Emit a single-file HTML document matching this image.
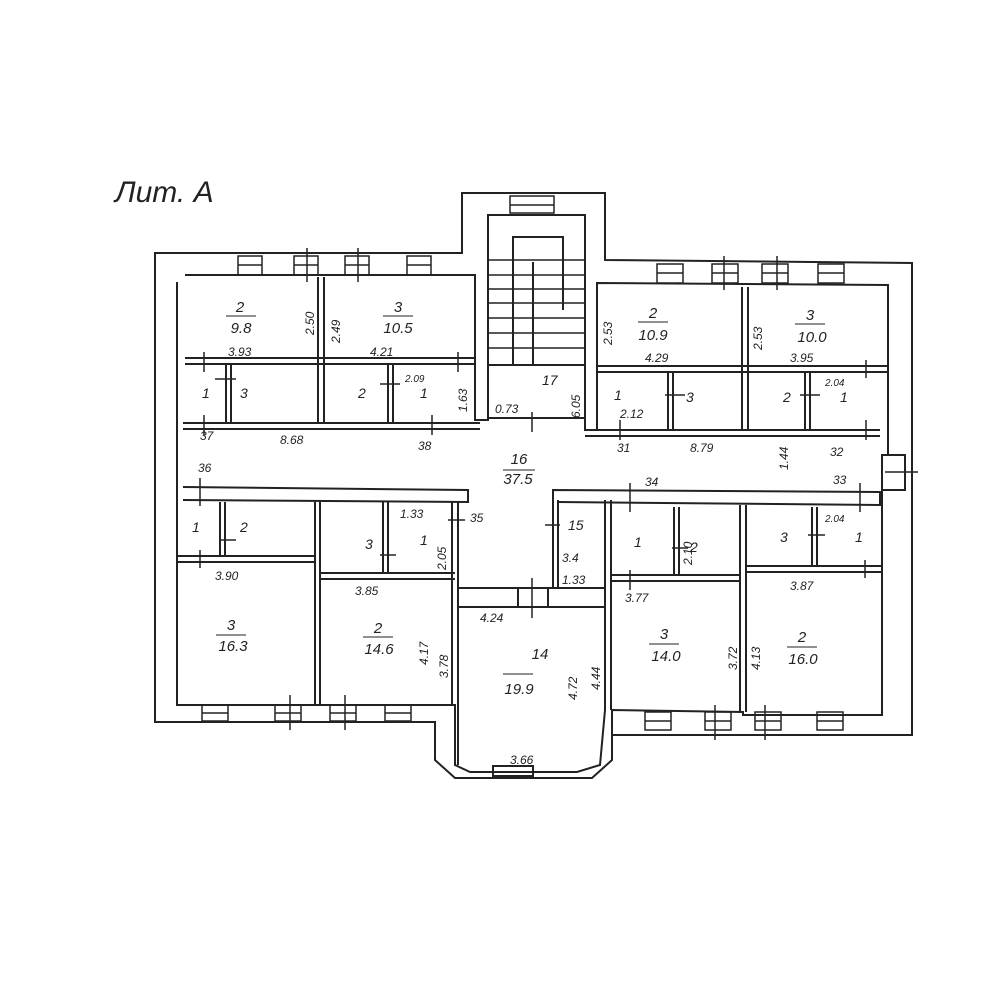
<!DOCTYPE html>
<html><head><meta charset="utf-8"><style>
html,body{margin:0;padding:0;background:#fff}
svg{display:block}
text{font-family:"Liberation Sans",sans-serif;font-style:italic;fill:#222}
</style></head><body>
<svg width="1000" height="1000" viewBox="0 0 1000 1000" xmlns="http://www.w3.org/2000/svg">
<g fill="none" stroke="#222" stroke-width="2">
<!-- outer outline -->
<polyline points="165,253 462,253 462,193 605,193 605,260 912,263 912,735 612,735 612,760 592,778 455,778 435,760 435,722 155,722 155,253 165,253"/>
<!-- inner outline -->
<polyline points="185,275 475,275 475,420 488,420 488,215 585,215 585,430 597,430 597,283 888,285 888,455"/>
<polyline points="888,490 882,490 882,715 743,715 743,712 612,710 612,735"/>
<polyline points="177,282 177,705 445,705 455,705 455,765 470,772 577,772 600,765 605,710"/>
<!-- top left rooms -->
<line x1="318" y1="277" x2="318" y2="423"/><line x1="324" y1="277" x2="324" y2="423"/>
<line x1="185" y1="358" x2="475" y2="358"/><line x1="185" y1="364" x2="475" y2="364"/>
<line x1="183" y1="423" x2="480" y2="423"/><line x1="183" y1="429" x2="480" y2="429"/>
<line x1="226" y1="364" x2="226" y2="423"/><line x1="231" y1="364" x2="231" y2="423"/>
<line x1="388" y1="364" x2="388" y2="423"/><line x1="393" y1="364" x2="393" y2="423"/>
<!-- stair -->
<line x1="533" y1="262" x2="533" y2="365"/>
<polyline points="513,365 513,237 563,237 563,310"/>
<line x1="488" y1="365" x2="585" y2="365"/>
<g stroke-width="1.5">
<line x1="488" y1="260" x2="585" y2="260"/><line x1="488" y1="275" x2="585" y2="275"/>
<line x1="488" y1="289" x2="585" y2="289"/><line x1="488" y1="303" x2="585" y2="303"/>
<line x1="488" y1="318" x2="585" y2="318"/><line x1="488" y1="333" x2="585" y2="333"/>
<line x1="488" y1="348" x2="585" y2="348"/>
</g>
<line x1="488" y1="418" x2="585" y2="418"/>
<!-- top right rooms -->
<line x1="742" y1="287" x2="742" y2="430"/><line x1="748" y1="287" x2="748" y2="430"/>
<line x1="597" y1="366" x2="888" y2="366"/><line x1="597" y1="372" x2="888" y2="372"/>
<line x1="585" y1="430" x2="880" y2="430"/><line x1="585" y1="436" x2="880" y2="436"/>
<line x1="668" y1="372" x2="668" y2="430"/><line x1="673" y1="372" x2="673" y2="430"/>
<line x1="805" y1="372" x2="805" y2="430"/><line x1="810" y1="372" x2="810" y2="430"/>
<!-- side door -->
<rect x="882" y="455" width="23" height="35"/>
<!-- lower left -->
<polyline points="183,487 468,490 468,502 183,500"/>
<line x1="320" y1="502" x2="320" y2="705"/><line x1="315" y1="502" x2="315" y2="705"/>
<line x1="177" y1="556" x2="315" y2="556"/><line x1="177" y1="562" x2="315" y2="562"/>
<line x1="320" y1="573" x2="455" y2="573"/><line x1="320" y1="579" x2="455" y2="579"/>
<line x1="220" y1="502" x2="220" y2="556"/><line x1="225" y1="502" x2="225" y2="556"/>
<line x1="383" y1="502" x2="383" y2="573"/><line x1="388" y1="502" x2="388" y2="573"/>
<line x1="452" y1="502" x2="452" y2="705"/><line x1="458" y1="502" x2="458" y2="765"/>
<!-- center -->
<line x1="458" y1="588" x2="605" y2="588"/><line x1="458" y1="607" x2="605" y2="607"/>
<line x1="553" y1="500" x2="553" y2="588"/><line x1="558" y1="500" x2="558" y2="588"/>
<line x1="605" y1="500" x2="605" y2="710"/><line x1="611" y1="500" x2="611" y2="710"/>
<line x1="518" y1="588" x2="518" y2="607"/><line x1="548" y1="588" x2="548" y2="607"/>
<rect x="493" y="766" width="40" height="10"/>
<!-- lower right -->
<polyline points="553,500 553,490 880,492 880,505 558,502"/>
<line x1="740" y1="505" x2="740" y2="712"/><line x1="746" y1="505" x2="746" y2="712"/>
<line x1="612" y1="575" x2="740" y2="575"/><line x1="612" y1="581" x2="740" y2="581"/>
<line x1="746" y1="566" x2="882" y2="566"/><line x1="746" y1="572" x2="882" y2="572"/>
<line x1="674" y1="507" x2="674" y2="575"/><line x1="679" y1="507" x2="679" y2="575"/>
<line x1="812" y1="507" x2="812" y2="566"/><line x1="817" y1="507" x2="817" y2="566"/>
<!-- windows -->
<g stroke-width="1.5">
<rect x="238" y="256" width="24" height="19"/><line x1="238" y1="265" x2="262" y2="265"/>
<rect x="294" y="256" width="24" height="19"/><line x1="294" y1="265" x2="318" y2="265"/>
<rect x="345" y="256" width="24" height="19"/><line x1="345" y1="265" x2="369" y2="265"/>
<rect x="407" y="256" width="24" height="19"/><line x1="407" y1="265" x2="431" y2="265"/>
<rect x="510" y="196" width="44" height="17"/><line x1="510" y1="205" x2="554" y2="205"/>
<rect x="657" y="264" width="26" height="19"/><line x1="657" y1="273" x2="683" y2="273"/>
<rect x="712" y="264" width="26" height="19"/><line x1="712" y1="273" x2="738" y2="273"/>
<rect x="762" y="264" width="26" height="19"/><line x1="762" y1="273" x2="788" y2="273"/>
<rect x="818" y="264" width="26" height="19"/><line x1="818" y1="273" x2="844" y2="273"/>
<rect x="202" y="705" width="26" height="16"/><line x1="202" y1="713" x2="228" y2="713"/>
<rect x="275" y="705" width="26" height="16"/><line x1="275" y1="713" x2="301" y2="713"/>
<rect x="330" y="705" width="26" height="16"/><line x1="330" y1="713" x2="356" y2="713"/>
<rect x="385" y="705" width="26" height="16"/><line x1="385" y1="713" x2="411" y2="713"/>
<rect x="645" y="712" width="26" height="18"/><line x1="645" y1="721" x2="671" y2="721"/>
<rect x="705" y="712" width="26" height="18"/><line x1="705" y1="721" x2="731" y2="721"/>
<rect x="755" y="712" width="26" height="18"/><line x1="755" y1="721" x2="781" y2="721"/>
<rect x="817" y="712" width="26" height="18"/><line x1="817" y1="721" x2="843" y2="721"/>
</g>
<!-- tick marks -->
<g stroke-width="1.5">
<line x1="307" y1="248" x2="307" y2="282"/><line x1="358" y1="248" x2="358" y2="282"/>
<line x1="724" y1="256" x2="724" y2="290"/><line x1="777" y1="256" x2="777" y2="290"/>
<line x1="204" y1="352" x2="204" y2="372"/><line x1="204" y1="415" x2="204" y2="435"/>
<line x1="432" y1="415" x2="432" y2="435"/><line x1="458" y1="352" x2="458" y2="372"/>
<line x1="620" y1="420" x2="620" y2="440"/><line x1="866" y1="420" x2="866" y2="440"/>
<line x1="866" y1="360" x2="866" y2="378"/><line x1="532" y1="412" x2="532" y2="432"/>
<line x1="200" y1="478" x2="200" y2="506"/><line x1="200" y1="550" x2="200" y2="568"/>
<line x1="630" y1="483" x2="630" y2="512"/><line x1="860" y1="483" x2="860" y2="512"/>
<line x1="865" y1="560" x2="865" y2="578"/><line x1="630" y1="570" x2="630" y2="590"/>
<line x1="532" y1="578" x2="532" y2="618"/><line x1="290" y1="695" x2="290" y2="730"/>
<line x1="345" y1="695" x2="345" y2="730"/><line x1="715" y1="705" x2="715" y2="740"/>
<line x1="765" y1="705" x2="765" y2="740"/><line x1="220" y1="540" x2="236" y2="540"/>
<line x1="380" y1="555" x2="396" y2="555"/><line x1="215" y1="379" x2="236" y2="379"/>
<line x1="380" y1="384" x2="400" y2="384"/><line x1="665" y1="395" x2="685" y2="395"/>
<line x1="800" y1="395" x2="820" y2="395"/><line x1="672" y1="548" x2="688" y2="548"/>
<line x1="808" y1="535" x2="825" y2="535"/><line x1="448" y1="520" x2="465" y2="520"/>
<line x1="545" y1="525" x2="560" y2="525"/><line x1="885" y1="472" x2="918" y2="472"/>
</g>
</g>
<text x="115" y="202" font-size="30">Лит. А</text>
<g font-size="15" text-anchor="middle">
<text x="240" y="312">2</text><line x1="226" y1="316" x2="256" y2="316" stroke="#222"/><text x="241" y="333">9.8</text>
<text x="398" y="312">3</text><line x1="383" y1="316" x2="413" y2="316" stroke="#222"/><text x="398" y="333">10.5</text>
<text x="653" y="318">2</text><line x1="638" y1="322" x2="668" y2="322" stroke="#222"/><text x="653" y="340">10.9</text>
<text x="810" y="320">3</text><line x1="795" y1="324" x2="825" y2="324" stroke="#222"/><text x="812" y="342">10.0</text>
<text x="519" y="464">16</text><line x1="503" y1="470" x2="535" y2="470" stroke="#222"/><text x="518" y="484">37.5</text>
<text x="231" y="630">3</text><line x1="216" y1="635" x2="246" y2="635" stroke="#222"/><text x="233" y="651">16.3</text>
<text x="378" y="633">2</text><line x1="363" y1="637" x2="393" y2="637" stroke="#222"/><text x="379" y="654">14.6</text>
<text x="540" y="659">14</text><line x1="503" y1="674" x2="533" y2="674" stroke="#222"/><text x="519" y="694">19.9</text>
<text x="664" y="639">3</text><line x1="649" y1="644" x2="679" y2="644" stroke="#222"/><text x="666" y="661">14.0</text>
<text x="802" y="642">2</text><line x1="787" y1="647" x2="817" y2="647" stroke="#222"/><text x="803" y="664">16.0</text>
</g>
<g font-size="14">
<text x="202" y="398">1</text><text x="240" y="398">3</text><text x="358" y="398">2</text><text x="420" y="398">1</text>
<text x="614" y="400">1</text><text x="686" y="402">3</text><text x="783" y="402">2</text><text x="840" y="402">1</text>
<text x="192" y="532">1</text><text x="240" y="532">2</text><text x="365" y="549">3</text><text x="420" y="545">1</text>
<text x="634" y="547">1</text><text x="690" y="552">2</text><text x="780" y="542">3</text><text x="855" y="542">1</text>
<text x="542" y="385">17</text><text x="568" y="530">15</text>
</g>
<g font-size="12">
<text x="228" y="356">3.93</text><text x="370" y="356">4.21</text><text x="645" y="362">4.29</text><text x="790" y="362">3.95</text>
<text x="200" y="440">37</text><text x="280" y="444">8.68</text><text x="418" y="450">38</text>
<text x="617" y="452">31</text><text x="690" y="452">8.79</text><text x="830" y="456">32</text>
<text x="198" y="472">36</text><text x="645" y="486">34</text><text x="833" y="484">33</text><text x="470" y="522">35</text>
<text x="400" y="518">1.33</text><text x="495" y="413">0.73</text><text x="620" y="418">2.12</text>
<text x="405" y="382" font-size="10">2.09</text><text x="825" y="386" font-size="10">2.04</text><text x="825" y="522" font-size="10">2.04</text>
<text x="215" y="580">3.90</text><text x="355" y="595">3.85</text><text x="480" y="622">4.24</text>
<text x="625" y="602">3.77</text><text x="790" y="590">3.87</text><text x="510" y="764">3.66</text>
<text x="562" y="562">3.4</text><text x="562" y="584">1.33</text>
</g>
<g font-size="12">
<text transform="translate(314,335) rotate(-90)">2.50</text>
<text transform="translate(340,343) rotate(-90)">2.49</text>
<text transform="translate(612,345) rotate(-90)">2.53</text>
<text transform="translate(762,350) rotate(-90)">2.53</text>
<text transform="translate(467,412) rotate(-90)">1.63</text>
<text transform="translate(580,418) rotate(-90)">6.05</text>
<text transform="translate(788,470) rotate(-90)">1.44</text>
<text transform="translate(446,570) rotate(-90)">2.05</text>
<text transform="translate(692,565) rotate(-90)">2.10</text>
<text transform="translate(428,665) rotate(-90)">4.17</text>
<text transform="translate(448,678) rotate(-90)">3.78</text>
<text transform="translate(577,700) rotate(-90)">4.72</text>
<text transform="translate(600,690) rotate(-90)">4.44</text>
<text transform="translate(737,670) rotate(-90)">3.72</text>
<text transform="translate(760,670) rotate(-90)">4.13</text>
</g>
</svg>
</body></html>
